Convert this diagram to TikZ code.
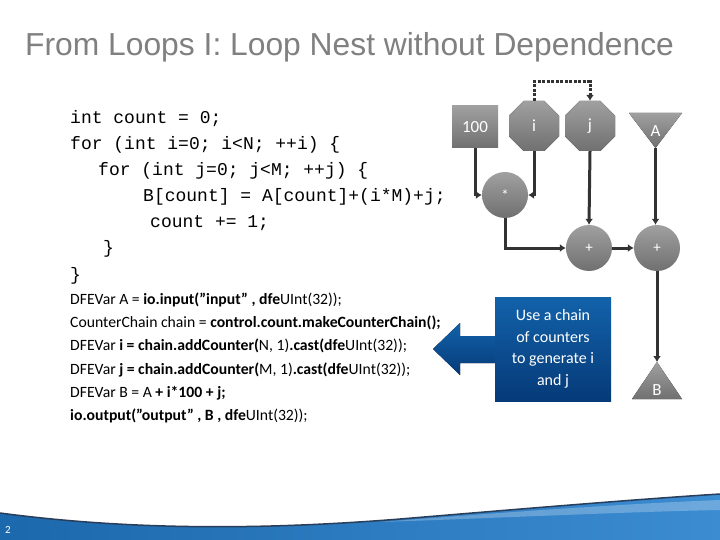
\documentclass[tikz,border=0pt]{standalone}
\usepackage{fontspec}
\setmainfont{Carlito}
\newfontfamily\ttlfont{Liberation Sans}
\newfontfamily\srcfont{Liberation Mono}
\usetikzlibrary{arrows.meta}
\definecolor{lptitle}{RGB}{128,128,128}
\definecolor{lpwire}{RGB}{51,51,51}
\definecolor{lpgtop}{RGB}{160,160,160}
\definecolor{lpgbot}{RGB}{112,112,112}
\definecolor{lpbtop}{RGB}{18,98,170}
\definecolor{lpbbot}{RGB}{6,58,120}
\definecolor{lpwave}{RGB}{28,104,172}
\definecolor{lpwavel}{RGB}{60,140,210}
\definecolor{lpwaved}{RGB}{40,62,90}

\tikzset{
  gshade/.style={top color=lpgtop,bottom color=lpgbot},
  op/.style={gshade,circle,minimum size=46pt,inner sep=0pt,text=white,font=\fontsize{15}{15}\selectfont},
  cnt/.style={rectangle,minimum size=50pt,inner sep=0pt,text=white,font=\fontsize{17}{17}\selectfont},
  cst/.style={gshade,rectangle,minimum width=46pt,minimum height=42pt,inner sep=0pt,text=white,font=\fontsize{17}{17}\selectfont},
  io/.style={text=white,inner sep=0pt,font=\fontsize{17}{17}\selectfont},
  wire/.style={lpwire,line width=3pt,-{Latex[length=6pt,width=8pt]}},
  src/.style={anchor=base west,inner sep=0pt,font=\srcfont\fontsize{18}{18}\selectfont},
  dfe/.style={anchor=base west,inner sep=0pt,font=\fontsize{15.7}{15.7}\selectfont}
}

\begin{document}
\begin{tikzpicture}[x=1pt,y=1pt]
  \useasboundingbox (0,0) rectangle (720,-540);
  \fill[white] (0,0) rectangle (720,-540);

  \fill[left color=lpwave,right color=lpwavel] (0,-513) .. controls (120,-529) and (250,-531) .. (400,-519)
    .. controls (520,-509) and (640,-499) .. (720,-494) -- (720,-540) -- (0,-540) -- cycle;
  \fill[white,opacity=0.25] (380,-522) .. controls (520,-511) and (640,-503) .. (720,-500)
    -- (720,-510) .. controls (620,-512) and (500,-518) .. (380,-522) -- cycle;
  \draw[lpwaved,line width=1.5pt] (0,-513) .. controls (120,-529) and (250,-531) .. (400,-519)
    .. controls (520,-509) and (640,-499) .. (720,-494);
  \node[text=white,font=\fontsize{11}{11}\selectfont] (pnum) at (8,-530) {2};

  \node[anchor=base west,inner sep=0pt,text=lptitle,font=\ttlfont\fontsize{31.8}{31.8}\selectfont]
    (title) at (25,-56) {From Loops I: Loop Nest without Dependence};

  \node[src] (ln1) at (70,-124) {int count = 0;};
  \node[src] (ln2) at (70,-150) {for (int i=0; i<N; ++i) \{};
  \node[src] (ln3) at (98,-176) {for (int j=0; j<M; ++j) \{};
  \node[src] (ln4) at (143,-202) {B[count] = A[count]+(i*M)+j;};
  \node[src] (ln5) at (150,-228) {count += 1;};
  \node[src] (ln6) at (103,-254) {\}};
  \node[src] (ln7) at (70,-280) {\}};

  \node[dfe] (dl1) at (70,-304) {DFEVar A = \textbf{io.input(”input” , dfe}UInt(32));};
  \node[dfe] (dl2) at (70,-327) {CounterChain chain = \textbf{control.count.makeCounterChain();}};
  \node[dfe] (dl3) at (70,-350) {DFEVar \textbf{i = chain.addCounter(}N, 1)\textbf{.cast(dfe}UInt(32));};
  \node[dfe] (dl4) at (70,-374) {DFEVar \textbf{j = chain.addCounter(}M, 1)\textbf{.cast(dfe}UInt(32));};
  \node[dfe] (dl5) at (70,-397) {DFEVar B = A \textbf{+ i*100 + j;}};
  \node[dfe] (dl6) at (70,-420) {\textbf{io.output(”output” , B , dfe}UInt(32));};

  \node[cst] (k100) at (475,-127) {100};
  \fill[gshade] (534,-126) ++(-10.35,25) -- ++(20.7,0) -- ++(14.65,-14.65) -- ++(0,-20.7)
    -- ++(-14.65,-14.65) -- ++(-20.7,0) -- ++(-14.65,14.65) -- ++(0,20.7) -- cycle;
  \node[cnt] (ci) at (534,-126) {i};
  \fill[gshade] (590,-126) ++(-10.35,25) -- ++(20.7,0) -- ++(14.65,-14.65) -- ++(0,-20.7)
    -- ++(-14.65,-14.65) -- ++(-20.7,0) -- ++(-14.65,14.65) -- ++(0,20.7) -- cycle;
  \node[cnt] (cj) at (590,-126) {j};
  \fill[gshade] (629,-113) -- (682,-113) -- (655.5,-148) -- cycle;
  \node[io] (inA) at (655.5,-131) {A};
  \coordinate (Atip) at (655.5,-148);
  \node[op] (mul) at (505,-195) {*};
  \node[op] (add1) at (589,-248) {+};
  \node[op] (add2) at (657,-248) {+};
  \fill[gshade] (657,-362) -- (682,-399) -- (632,-399) -- cycle;
  \node[io] (outB) at (657,-390) {B};
  \coordinate (Btop) at (657,-362);
  \coordinate (loop) at (534,-82);

  \draw[wire] (k100.south) |- (mul.west);
  \draw[wire] (ci.south) |- (mul.east);
  \draw[wire] (mul.south) |- (add1.west);
  \draw[wire] (cj.south) -- (add1.north);
  \draw[wire] (Atip) -- (Atip |- add2.north);
  \draw[wire] (add1.east) -- (add2.west);
  \draw[wire] (add2.south) -- (Btop);
  \draw[wire,dash pattern=on 3pt off 1.5pt] (ci.north) -- (loop) -| (cj.north);

  \fill[top color=lpbtop,bottom color=lpbbot] (433,-349) -- (460,-323) -- (460,-336) -- (497,-336)
    -- (497,-363) -- (460,-363) -- (460,-375) -- cycle;
  \node[top color=lpbtop,bottom color=lpbbot,minimum width=116pt,minimum height=104pt,inner sep=0pt,
    text=white,align=center,font=\fontsize{16}{21.5}\selectfont] (note) at (553,-349)
    {Use a chain\\of counters\\to generate i\\and j};
\end{tikzpicture}
\end{document}
